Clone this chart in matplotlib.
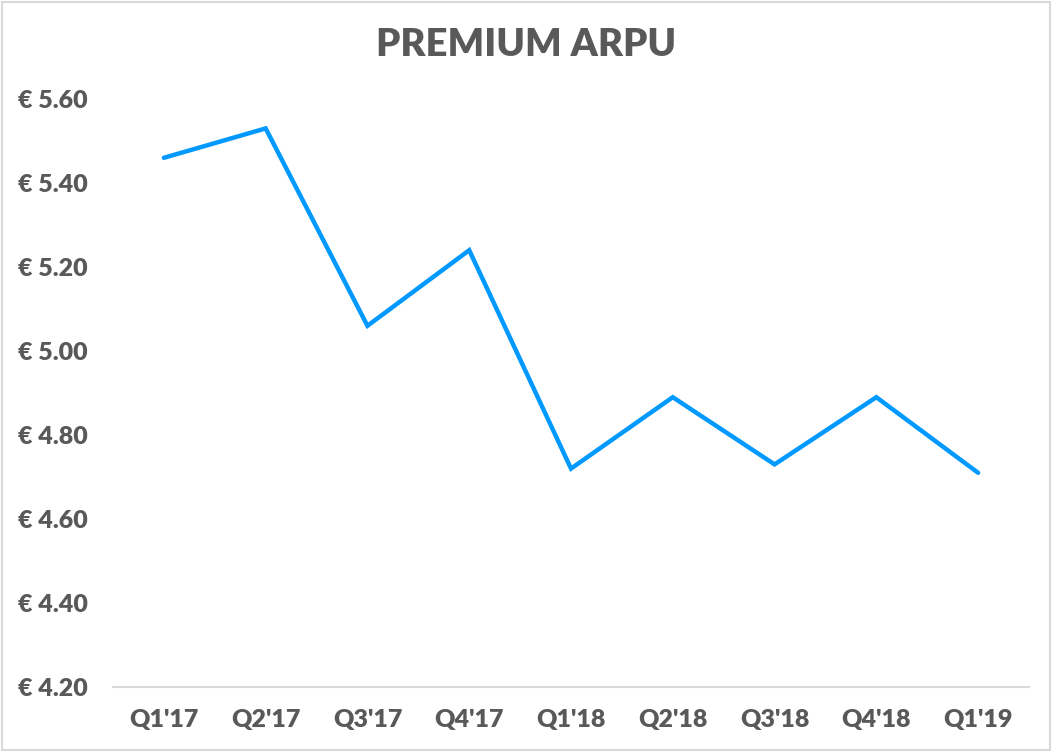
import matplotlib.pyplot as plt
from matplotlib.patches import Rectangle

quarters = ["Q1'17", "Q2'17", "Q3'17", "Q4'17", "Q1'18", "Q2'18", "Q3'18", "Q4'18", "Q1'19"]
arpu = [5.46, 5.53, 5.06, 5.24, 4.72, 4.89, 4.73, 4.89, 4.71]
y_ticks = [4.20, 4.40, 4.60, 4.80, 5.00, 5.20, 5.40, 5.60]

grey = '#595959'
plt.rcParams['font.family'] = ['Lato', 'DejaVu Sans']

fig = plt.figure(figsize=(10.52, 7.52), dpi=100)
ax = fig.add_axes([113 / 1052, 1 - 687 / 752, (1029 - 113) / 1052, (687 - 99) / 752])

x = list(range(len(quarters)))
ax.plot(x, arpu, color='#0099FF', linewidth=3.2, solid_capstyle='round', solid_joinstyle='miter')

ax.set_xlim(-0.5, len(quarters) - 0.5)
ax.set_ylim(4.20, 5.60)
ax.set_yticks(y_ticks)
ax.set_yticklabels([f'€ {v:.2f}' for v in y_ticks])
ax.set_xticks(x)
ax.set_xticklabels(quarters)

for s in ['top', 'right', 'left']:
    ax.spines[s].set_visible(False)
ax.spines['bottom'].set_color('#d9d9d9')
ax.spines['bottom'].set_linewidth(1.5)
ax.tick_params(axis='both', length=0, labelsize=18, labelcolor=grey)
ax.tick_params(axis='y', pad=18)
ax.tick_params(axis='x', pad=16)
for lbl in ax.get_xticklabels() + ax.get_yticklabels():
    lbl.set_fontweight('heavy')

fig.text(0.5, 1 - 45 / 752, 'PREMIUM ARPU', ha='center', va='center',
         fontsize=27.5, fontweight='heavy', color=grey)

fig.patches.append(Rectangle((0.002, 0.002), 0.996, 0.996, transform=fig.transFigure,
                             fill=False, edgecolor='#d9d9d9', linewidth=1.5))

fig.savefig('out.png', dpi=100)
